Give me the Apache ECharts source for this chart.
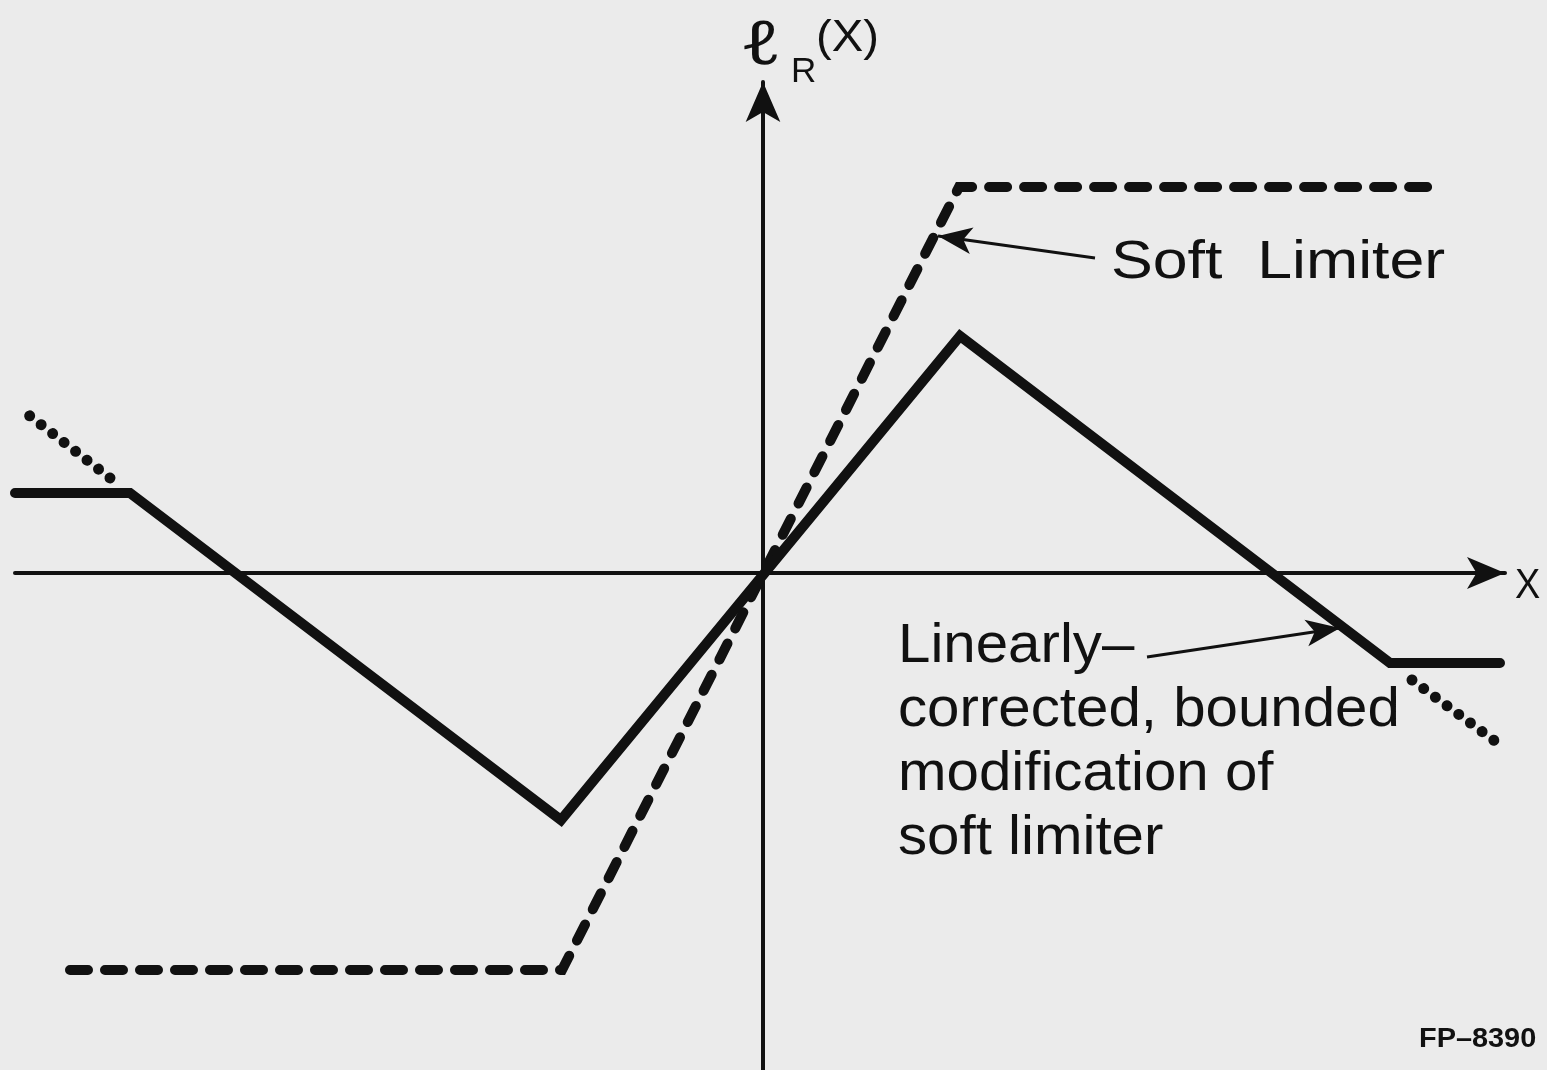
<!DOCTYPE html>
<html>
<head>
<meta charset="utf-8">
<title>Soft limiter and its bounded modification</title>
<script src="https://cdn.jsdelivr.net/npm/echarts@6/dist/echarts.min.js"></script>
<style>
  html, body { margin: 0; padding: 0; background: #ebebeb; }
  #chart { width: 1547px; height: 1070px; }
</style>
</head>
<body>
<div id="chart"></div>
<script>
// Soft limiter: clipped linear characteristic (dashed)
const softLimiter = [[-6.93, -3.97], [-2.01, -3.97], [1.96, 3.86], [6.77, 3.86]];
// Linearly-corrected, bounded modification (solid)
const corrected = [[-7.48, 0.80], [-6.33, 0.80], [-2.02, -2.47], [1.97, 2.37], [6.27, -0.90], [7.37, -0.90]];
// Continuations of the falling segments beyond the bounds (dotted)
const tailLeft = [[-6.53, 0.95], [-7.37, 1.60]];
const tailRight = [[6.49, -1.07], [7.40, -1.74]];
// Axis extents
const xRange = [-7.48, 7.42];
const yRange = [-4.97, 4.91];
// Annotation pointers: [from, to]
const softPointer = [[3.32, 3.15], [1.75, 3.37]];
const correctedPointer = [[3.84, -0.84], [5.77, -0.55]];
// Text
const yName = ['ℓ', 'R', '(X)'];
const xName = 'X';
const softText = 'Soft  Limiter';
const correctedText = ['Linearly–', 'corrected, bounded', 'modification of', 'soft limiter'];
const figId = 'FP–8390';

const INK = '#111';
const FONT = '"Liberation Sans", Arial, sans-serif';

const chart = echarts.init(document.getElementById('chart'), null, { renderer: 'canvas' });

function pointer(coords) {
  return {
    silent: true,
    symbol: ['none', 'arrow'],
    symbolSize: [20, 34],
    label: { show: false },
    lineStyle: { color: INK, width: 3, type: 'solid' },
    emphasis: { disabled: true },
    data: [[{ coord: coords[0] }, { coord: coords[1] }]]
  };
}

function axisCommon(range, arrowSize) {
  return {
    type: 'value',
    min: range[0],
    max: range[1],
    axisLine: {
      show: true,
      onZero: true,
      symbol: ['none', 'arrow'],
      symbolSize: arrowSize,
      lineStyle: { color: INK, width: 4 }
    },
    axisTick: { show: false },
    axisLabel: { show: false },
    splitLine: { show: false }
  };
}

function label(text, x, y, font, sx) {
  return {
    type: 'text', x: x, y: y, scaleX: sx || 1, silent: true,
    style: { text: text, font: font, fill: INK, verticalAlign: 'top' }
  };
}

const option = {
  backgroundColor: '#ebebeb',
  animation: false,
  grid: { left: 15, right: 42, top: 82, bottom: 0 },
  xAxis: axisCommon(xRange, [24, 38]),
  yAxis: axisCommon(yRange, [26, 40]),
  series: [
    {
      type: 'line',
      data: softLimiter,
      symbol: 'none',
      lineStyle: { color: INK, width: 10, type: [18, 17], cap: 'round', join: 'miter' },
      markLine: pointer(softPointer)
    },
    {
      type: 'line',
      data: corrected,
      symbol: 'none',
      lineStyle: { color: INK, width: 10, type: 'solid', cap: 'round', join: 'miter' },
      markLine: pointer(correctedPointer)
    },
    {
      type: 'line',
      data: tailLeft,
      symbol: 'none',
      lineStyle: { color: INK, width: 11, type: [0.01, 14.5], cap: 'round' }
    },
    {
      type: 'line',
      data: tailRight,
      symbol: 'none',
      lineStyle: { color: INK, width: 11, type: [0.01, 14.5], cap: 'round' }
    }
  ],
  graphic: [
    label(yName[0], 740, 17, '60px "Noto Sans"', 1.35),
    label(yName[1], 791, 55, '35px ' + FONT),
    label(yName[2], 816, 16, '45px ' + FONT, 1.05),
    label(xName, 1515, 565, '42px ' + FONT, 0.9),
    label(softText, 1111, 236, '54px ' + FONT, 1.16),
    {
      type: 'text', x: 898, y: 615, scaleX: 1.04, silent: true,
      style: { text: correctedText.join('\n'), font: '56px ' + FONT, lineHeight: 64, fill: INK, verticalAlign: 'top' }
    },
    label(figId, 1419, 1026, 'bold 27px ' + FONT, 1.07)
  ]
};

chart.setOption(option);
</script>
</body>
</html>
